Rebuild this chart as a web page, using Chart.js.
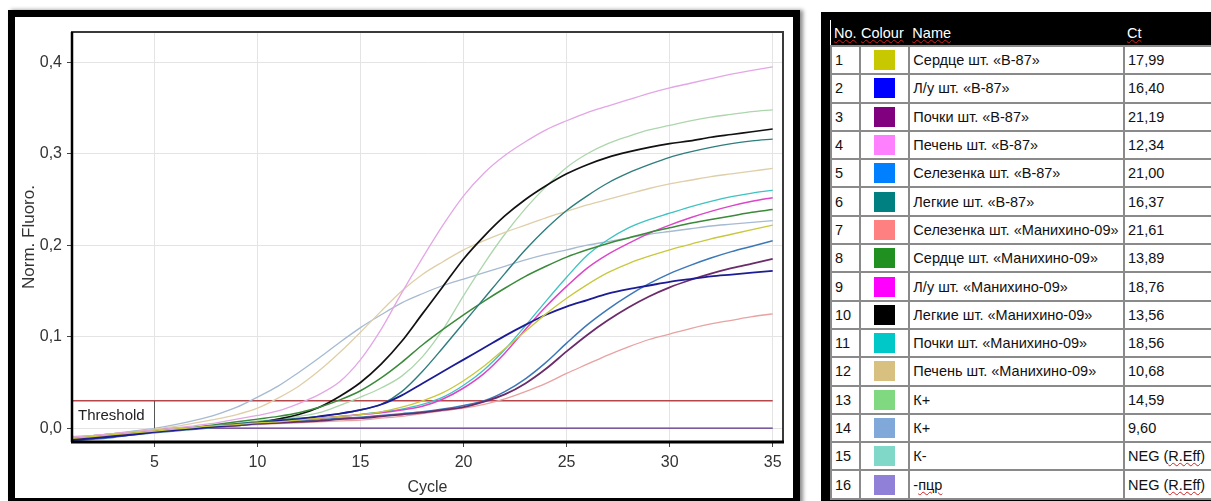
<!DOCTYPE html>
<html>
<head>
<meta charset="utf-8">
<script src="https://cdn.jsdelivr.net/npm/chart.js@4.4.0/dist/chart.umd.min.js"></script>
<style>
  body {
    margin: 0;
    width: 1211px;
    height: 501px;
    overflow: hidden;
    background: #fff;
    position: relative;
    font-family: "Liberation Sans", Arial, sans-serif;
  }
  #painel {
    position: absolute;
    left: 8px;
    top: 10px;
    width: 778px;
    height: 481px;
    border: 7px solid #000;
    background: #fff;
    box-shadow: 3px 0 4px rgba(0, 0, 0, 0.45);
  }
  #grafico {
    position: absolute;
    left: 0;
    top: 0;
  }
  #caixa-tabela {
    position: absolute;
    left: 821px;
    top: 12px;
    width: 400px;
    height: 495px;
    background: #000;
  }
  #tabela {
    position: absolute;
    left: 9px;
    top: 8px;
    border-collapse: collapse;
    table-layout: fixed;
    background: #fff;
    font-size: 14.5px;
    color: #111;
  }
  #tabela th {
    background: #000;
    color: #fff;
    font-weight: normal;
    text-align: left;
    height: 25px;
    padding: 0 0 0 3px;
    white-space: nowrap;
  }
  #tabela th span {
    text-decoration: underline wavy #d02020;
    text-decoration-thickness: 1px;
  }
  #tabela td {
    border: 2px solid #8a8a8a;
    height: 26.3px;
    padding: 0 0 0 3px;
    white-space: nowrap;
    overflow: hidden;
  }
  #tabela td.cor {
    text-align: center;
    padding: 0;
  }
  .amostra {
    display: inline-block;
    width: 21px;
    height: 20px;
    vertical-align: middle;
  }
  .sublinhado {
    text-decoration: underline wavy #d02020;
    text-decoration-thickness: 1px;
  }
</style>
</head>
<body>
<div id="painel">
  <canvas id="grafico" width="778" height="481"></canvas>
</div>
<div id="caixa-tabela">
  <table id="tabela">
    <colgroup>
      <col style="width: 30px">
      <col style="width: 51px">
      <col style="width: 216px">
      <col style="width: 100px">
    </colgroup>
    <thead>
      <tr><th><span>No.</span></th><th style="padding-left:1px"><span>Colour</span></th><th><span>Name</span></th><th><span>Ct</span></th></tr>
    </thead>
    <tbody id="linhas"></tbody>
  </table>
</div>
<script>
const cycles = [1, 2, 3, 4, 5, 6, 7, 8, 9, 10, 11, 12, 13, 14, 15, 16, 17, 18, 19, 20, 21, 22, 23, 24, 25, 26, 27, 28, 29, 30, 31, 32, 33, 34, 35];
const xTicks = [5, 10, 15, 20, 25, 30, 35];
const yTicks = [0, 0.1, 0.2, 0.3, 0.4];
const threshold = 0.03;

const names = [
  "Сердце шт. «В-87»",
  "Л/у шт. «В-87»",
  "Почки шт. «В-87»",
  "Печень шт. «В-87»",
  "Селезенка шт. «В-87»",
  "Легкие шт. «В-87»",
  "Селезенка шт. «Манихино-09»",
  "Сердце шт. «Манихино-09»",
  "Л/у шт. «Манихино-09»",
  "Легкие шт. «Манихино-09»",
  "Почки шт. «Манихино-09»",
  "Печень шт. «Манихино-09»",
  "К+",
  "К+",
  "К-",
  "-пцр",
];
const ctValues = ["17,99", "16,40", "21,19", "12,34", "21,00", "16,37", "21,61", "13,89", "18,76", "13,56", "18,56", "10,68", "14,59", "9,60", "NEG (R.Eff)", "NEG (R.Eff)"];
const colours = ["#c8c800", "#0000ff", "#800080", "#ff80ff", "#0080ff", "#008080", "#ff8080", "#209020", "#ff00ff", "#000000", "#00c8c8", "#d8c080", "#80d880", "#80a8d8", "#80d8c8", "#9080d8"];

const curve01 = [-0.011, -0.009, -0.007, -0.005, -0.003, -0.001, 0.001, 0.003, 0.004, 0.006, 0.007, 0.009, 0.011, 0.013, 0.015, 0.018, 0.023, 0.030, 0.039, 0.052, 0.068, 0.087, 0.106, 0.125, 0.142, 0.157, 0.170, 0.180, 0.188, 0.195, 0.201, 0.207, 0.212, 0.217, 0.222];
const curve02 = [-0.013, -0.011, -0.009, -0.007, -0.004, -0.002, 0.000, 0.002, 0.004, 0.006, 0.008, 0.010, 0.013, 0.016, 0.020, 0.026, 0.036, 0.049, 0.062, 0.075, 0.088, 0.101, 0.113, 0.124, 0.133, 0.140, 0.147, 0.152, 0.156, 0.160, 0.163, 0.166, 0.168, 0.170, 0.172];
const curve03 = [-0.012, -0.010, -0.008, -0.006, -0.004, -0.002, 0.000, 0.002, 0.003, 0.005, 0.006, 0.007, 0.008, 0.010, 0.011, 0.013, 0.015, 0.017, 0.020, 0.023, 0.029, 0.037, 0.049, 0.065, 0.084, 0.102, 0.118, 0.132, 0.144, 0.154, 0.162, 0.169, 0.175, 0.180, 0.185];
const curve04 = [-0.010, -0.008, -0.006, -0.004, -0.002, 0.000, 0.003, 0.006, 0.010, 0.014, 0.019, 0.027, 0.037, 0.051, 0.075, 0.108, 0.148, 0.186, 0.222, 0.254, 0.279, 0.298, 0.313, 0.326, 0.336, 0.345, 0.352, 0.359, 0.366, 0.372, 0.377, 0.382, 0.387, 0.391, 0.395];
const curve05 = [-0.014, -0.012, -0.010, -0.007, -0.005, -0.003, -0.001, 0.001, 0.003, 0.005, 0.006, 0.008, 0.009, 0.011, 0.012, 0.014, 0.016, 0.018, 0.021, 0.025, 0.030, 0.040, 0.054, 0.072, 0.093, 0.113, 0.130, 0.145, 0.158, 0.169, 0.178, 0.186, 0.193, 0.199, 0.205];
const curve06 = [-0.011, -0.009, -0.007, -0.005, -0.003, -0.001, 0.001, 0.003, 0.005, 0.007, 0.009, 0.011, 0.013, 0.016, 0.020, 0.026, 0.040, 0.062, 0.088, 0.115, 0.142, 0.169, 0.195, 0.218, 0.238, 0.254, 0.268, 0.279, 0.288, 0.296, 0.302, 0.307, 0.311, 0.314, 0.316];
const curve07 = [-0.010, -0.008, -0.006, -0.004, -0.002, 0.000, 0.001, 0.002, 0.003, 0.004, 0.005, 0.006, 0.007, 0.008, 0.009, 0.011, 0.013, 0.016, 0.019, 0.022, 0.026, 0.032, 0.040, 0.049, 0.060, 0.070, 0.080, 0.089, 0.097, 0.103, 0.109, 0.114, 0.118, 0.122, 0.125];
const curve08 = [-0.012, -0.010, -0.008, -0.005, -0.003, -0.001, 0.001, 0.004, 0.007, 0.010, 0.013, 0.017, 0.023, 0.031, 0.041, 0.055, 0.072, 0.091, 0.108, 0.124, 0.139, 0.153, 0.166, 0.177, 0.187, 0.195, 0.202, 0.208, 0.214, 0.219, 0.224, 0.228, 0.232, 0.236, 0.239];
const curve09 = [-0.012, -0.010, -0.008, -0.006, -0.004, -0.002, 0.000, 0.002, 0.004, 0.006, 0.007, 0.009, 0.011, 0.013, 0.015, 0.017, 0.020, 0.024, 0.032, 0.044, 0.060, 0.082, 0.108, 0.133, 0.155, 0.175, 0.190, 0.202, 0.213, 0.222, 0.230, 0.237, 0.243, 0.248, 0.252];
const curve10 = [-0.013, -0.011, -0.009, -0.006, -0.004, -0.002, 0.000, 0.002, 0.004, 0.006, 0.010, 0.015, 0.023, 0.035, 0.050, 0.070, 0.095, 0.125, 0.155, 0.185, 0.210, 0.232, 0.250, 0.265, 0.278, 0.288, 0.296, 0.302, 0.307, 0.311, 0.314, 0.318, 0.321, 0.324, 0.327];
const curve11 = [-0.011, -0.009, -0.007, -0.005, -0.003, -0.001, 0.001, 0.003, 0.005, 0.006, 0.008, 0.009, 0.011, 0.013, 0.015, 0.018, 0.021, 0.026, 0.034, 0.047, 0.064, 0.086, 0.112, 0.139, 0.165, 0.189, 0.206, 0.219, 0.228, 0.235, 0.242, 0.248, 0.253, 0.257, 0.260];
const curve12 = [-0.010, -0.008, -0.006, -0.004, -0.001, 0.002, 0.006, 0.010, 0.015, 0.022, 0.033, 0.046, 0.063, 0.083, 0.105, 0.128, 0.150, 0.168, 0.182, 0.195, 0.205, 0.214, 0.222, 0.230, 0.237, 0.244, 0.250, 0.256, 0.262, 0.267, 0.271, 0.275, 0.278, 0.281, 0.284];
const curve13 = [-0.011, -0.009, -0.007, -0.005, -0.003, -0.001, 0.001, 0.003, 0.005, 0.008, 0.010, 0.013, 0.017, 0.025, 0.034, 0.044, 0.057, 0.078, 0.108, 0.145, 0.180, 0.212, 0.240, 0.264, 0.285, 0.300, 0.311, 0.319, 0.326, 0.331, 0.336, 0.340, 0.343, 0.346, 0.348];
const curve14 = [-0.010, -0.008, -0.006, -0.003, 0.000, 0.004, 0.009, 0.015, 0.023, 0.034, 0.046, 0.061, 0.077, 0.094, 0.110, 0.124, 0.137, 0.147, 0.156, 0.163, 0.170, 0.177, 0.184, 0.190, 0.195, 0.200, 0.204, 0.208, 0.212, 0.215, 0.218, 0.221, 0.223, 0.225, 0.227];
const curve15 = [-0.009, -0.008, -0.006, -0.004, -0.002, -0.001, 0.000, 0.000, 0.000, 0.000, 0.000, 0.000, 0.000, 0.000, 0.000, 0.000, 0.000, 0.000, 0.000, 0.000, 0.000, 0.000, 0.000, 0.000, 0.000, 0.000, 0.000, 0.000, 0.000, 0.000, 0.000, 0.000, 0.000, 0.000, 0.000];
const curve16 = [-0.010, -0.009, -0.007, -0.005, -0.002, 0.000, 0.000, 0.000, 0.000, 0.000, 0.000, 0.000, 0.000, 0.000, 0.000, 0.000, 0.000, 0.000, 0.000, 0.000, 0.000, 0.000, 0.000, 0.000, 0.000, 0.000, 0.000, 0.000, 0.000, 0.000, 0.000, 0.000, 0.000, 0.000, 0.000];

const curves = [curve01, curve02, curve03, curve04, curve05, curve06, curve07, curve08, curve09, curve10, curve11, curve12, curve13, curve14, curve15, curve16];

// the curves are drawn paler than the swatches in the table
const lineColours = ["#c8c83c", "#1c1c96", "#6a2c6a", "#e3a6e6", "#3c78b8", "#2f7d7d", "#e8a2a2", "#3a8a3a", "#dc46c8", "#111111", "#3ec2c2", "#dfcfa8", "#acd6ac", "#a6bad2", "#80d8c8", "#7a5a9c"];
const lineWidths = [1.3, 1.8, 1.8, 1.3, 1.5, 1.4, 1.3, 1.5, 1.5, 1.7, 1.3, 1.3, 1.3, 1.3, 1.3, 1.6];

const linhas = document.getElementById("linhas");
names.forEach((nome, i) => {
  const tr = document.createElement("tr");
  let ct = ctValues[i];
  if (ct.startsWith("NEG")) {
    ct = `NEG (<span class="sublinhado">R.Eff</span>)`;
  }
  let texto = nome;
  if (nome == "-пцр") {
    texto = `-<span class="sublinhado">пцр</span>`;
  }
  tr.innerHTML = `<td>${i + 1}</td><td class="cor"><span class="amostra" style="background:${colours[i]}"></span></td><td>${texto}</td><td>${ct}</td>`;
  linhas.appendChild(tr);
});

const datasets = curves.map((curva, i) => ({
  label: names[i],
  data: curva.map((v, j) => ({ x: cycles[j], y: v })),
  borderColor: lineColours[i],
  borderWidth: lineWidths[i],
  pointRadius: 0,
  cubicInterpolationMode: "monotone",
  fill: false,
  // K- sits under the -пцр line at zero
  order: names[i] == "К-" ? 2 : 0,
}));

datasets.push({
  label: "Threshold",
  data: [
    { x: cycles[0], y: threshold },
    { x: cycles[cycles.length - 1], y: threshold },
  ],
  borderColor: "#b5474b",
  borderWidth: 1.5,
  pointRadius: 0,
  fill: false,
  order: 1,
});

const moldura = {
  id: "moldura",
  afterDatasetsDraw(chart) {
    const { ctx, chartArea: a, scales } = chart;
    const yT = scales.y.getPixelForValue(threshold);
    const y0 = scales.y.getPixelForValue(0);
    const xR = Math.round(scales.x.getPixelForValue(xTicks[0])) + 0.5;

    ctx.save();
    ctx.strokeStyle = "#555";
    ctx.lineWidth = 1;
    ctx.beginPath();
    ctx.moveTo(xR, yT);
    ctx.lineTo(xR, y0);
    ctx.stroke();

    ctx.fillStyle = "#222";
    ctx.font = "15px 'Liberation Sans', Arial, sans-serif";
    ctx.textBaseline = "middle";
    ctx.fillText("Threshold", a.left + 6, (yT + y0) / 2 + 1);

    ctx.strokeStyle = "#3a3a3a";
    ctx.lineWidth = 2;
    ctx.strokeRect(a.left, a.top, a.right - a.left, a.bottom - a.top);

    ctx.strokeStyle = "#000";
    ctx.lineWidth = 3;
    ctx.beginPath();
    ctx.moveTo(a.left - 1, a.bottom);
    ctx.lineTo(a.right + 1, a.bottom);
    ctx.stroke();
    ctx.lineWidth = 2.5;
    ctx.beginPath();
    ctx.moveTo(a.left, a.top);
    ctx.lineTo(a.left, a.bottom);
    ctx.stroke();
    ctx.restore();
  },
};

const grafico = document.getElementById("grafico").getContext("2d");

new Chart(grafico, {
  type: "line",
  data: { datasets: datasets },
  plugins: [moldura],
  options: {
    responsive: false,
    animation: false,
    devicePixelRatio: 1,
    layout: {
      padding: { left: 0, top: 15, right: 10, bottom: 0 },
    },
    plugins: {
      legend: { display: false },
      tooltip: { enabled: false },
    },
    scales: {
      x: {
        type: "linear",
        min: 1,
        max: 35.5,
        afterBuildTicks: (axis) => {
          axis.ticks = xTicks.map((v) => ({ value: v }));
        },
        afterFit: (axis) => {
          axis.height = 56;
        },
        grid: {
          color: "#e4e4e4",
          tickColor: "#444",
          tickLength: 5,
        },
        border: { display: false },
        ticks: {
          color: "#333",
          padding: 6,
          maxRotation: 0,
          font: { family: "'Liberation Sans', Arial, sans-serif", size: 16 },
        },
        title: {
          display: true,
          text: "Cycle",
          color: "#333",
          padding: { top: 0, bottom: 1 },
          font: { family: "'Liberation Sans', Arial, sans-serif", size: 16 },
        },
      },
      y: {
        min: -0.015,
        max: 0.433,
        afterBuildTicks: (axis) => {
          axis.ticks = yTicks.map((v) => ({ value: v }));
        },
        afterFit: (axis) => {
          axis.width = 57;
        },
        grid: {
          color: "#e4e4e4",
          tickColor: "#444",
          tickLength: 5,
        },
        border: { display: false },
        ticks: {
          color: "#333",
          padding: 5,
          callback: (v) => v.toFixed(1).replace(".", ","),
          font: { family: "'Liberation Sans', Arial, sans-serif", size: 16 },
        },
        title: {
          display: true,
          text: "Norm. Fluoro.",
          color: "#333",
          padding: { top: 4, bottom: 4 },
          font: { family: "'Liberation Sans', Arial, sans-serif", size: 17 },
        },
      },
    },
  },
});
</script>
</body>
</html>
